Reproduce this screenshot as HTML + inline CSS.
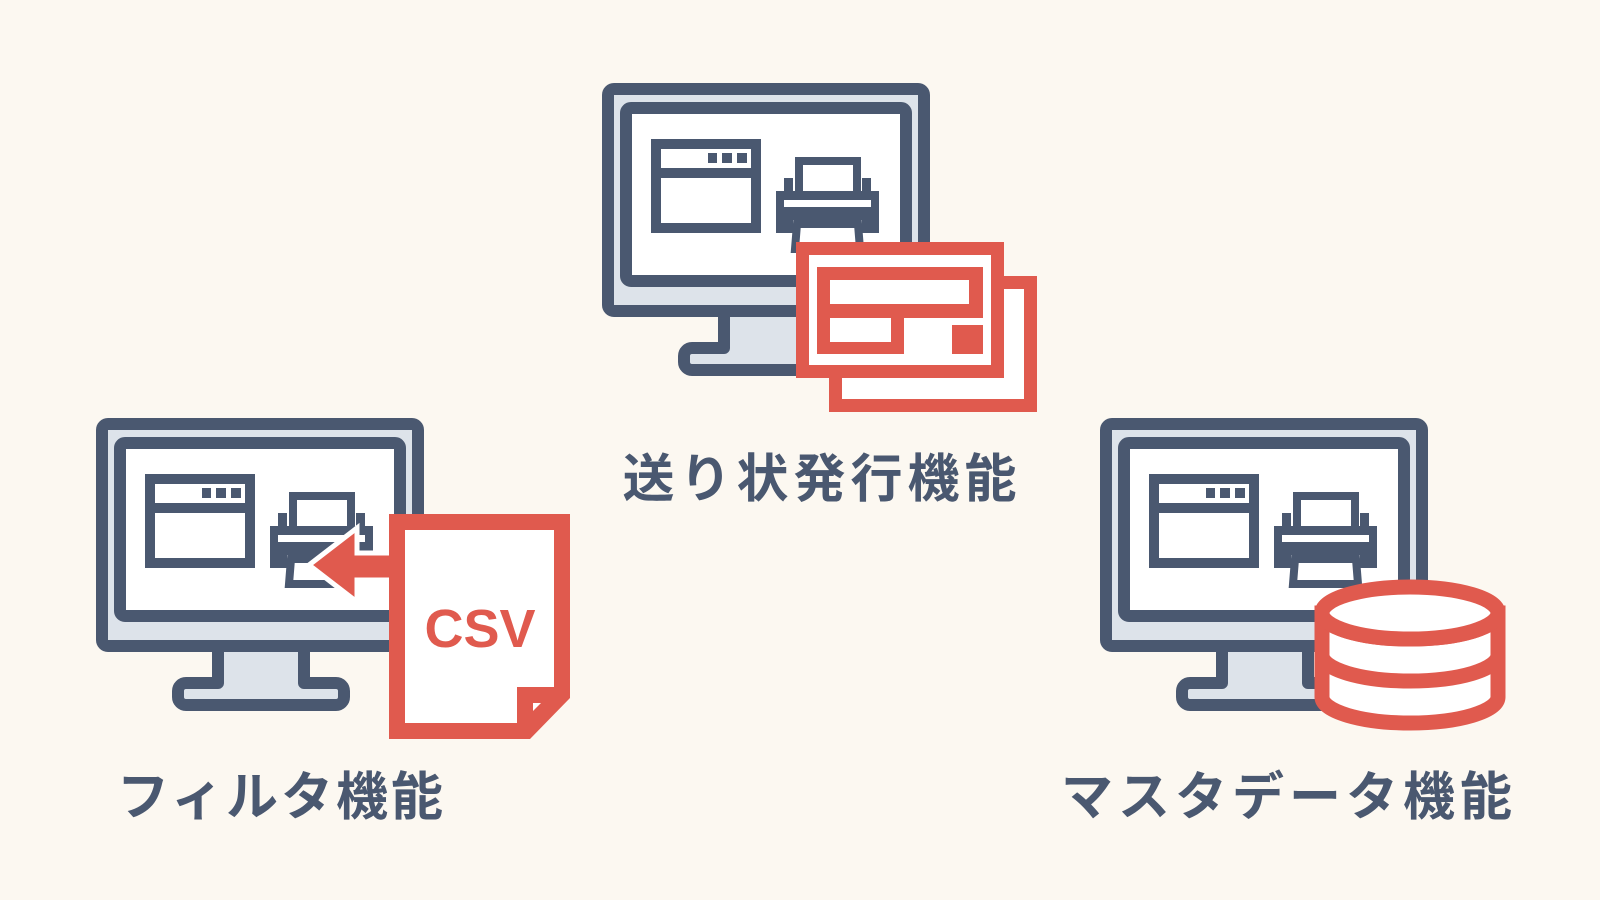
<!DOCTYPE html>
<html><head><meta charset="utf-8"><style>
html,body{margin:0;padding:0;background:#fcf8f1;}
svg{display:block}
text{font-family:"Liberation Sans","Noto Sans CJK JP",sans-serif;font-weight:bold;}
</style></head><body>
<svg width="1600" height="900" viewBox="0 0 1600 900" xmlns="http://www.w3.org/2000/svg">
<defs>
<g id="mon">
  <path d="M724 311 V348 H692 a8 8 0 0 0 -8 8 V362 a8 8 0 0 0 8 8 H842 a8 8 0 0 0 8 -8 V356 a8 8 0 0 0 -8 -8 H810 V311 Z" fill="#dde3ea" stroke="#4a5870" stroke-width="12" stroke-linejoin="round"/>
  <rect x="608" y="89" width="316" height="222" rx="6" fill="#dde3ea" stroke="#4a5870" stroke-width="12"/>
  <rect x="626" y="108" width="280" height="173" rx="5" fill="#fff" stroke="#4a5870" stroke-width="12"/>
  <rect x="656" y="144" width="100" height="84" fill="#fff" stroke="#4a5870" stroke-width="10"/>
  <rect x="656" y="168" width="100" height="10" fill="#4a5870"/>
  <rect x="708" y="153" width="9" height="10" fill="#4a5870"/>
  <rect x="722" y="153" width="10" height="10" fill="#4a5870"/>
  <rect x="737" y="153" width="10" height="10" fill="#4a5870"/>
  <rect x="799" y="161" width="58" height="34" fill="#fff" stroke="#4a5870" stroke-width="8"/>
  <rect x="784" y="178" width="9" height="15" fill="#4a5870"/>
  <rect x="862" y="178" width="9" height="15" fill="#4a5870"/>
  <path d="M776 191 H879 V233 H862 V207 H793 V233 H776 Z" fill="#4a5870"/>
  <rect x="784" y="200" width="87" height="7" fill="#fff"/>
  <rect x="776" y="207" width="103" height="13" fill="#4a5870"/>
  <path d="M797 224 H858 L860 249 H795 Z" fill="#fff" stroke="#4a5870" stroke-width="8"/>
</g>
</defs>

<use href="#mon"/>
<rect x="835.5" y="282.5" width="195" height="123" fill="#fff" stroke="#e05a4e" stroke-width="13"/>
<rect x="802.5" y="248.5" width="195" height="123" fill="#fff" stroke="#e05a4e" stroke-width="13"/>
<rect x="817" y="267" width="166" height="51" fill="#e05a4e"/>
<rect x="830" y="280" width="139" height="24" fill="#fff"/>
<rect x="817" y="318" width="87" height="36" fill="#e05a4e"/>
<rect x="830" y="318" width="61" height="24" fill="#fff"/>
<rect x="952" y="325" width="31" height="29" fill="#e05a4e"/>
<text x="822" y="497" font-size="52" fill="#4a5870" text-anchor="middle" letter-spacing="5">送り状発行機能</text>

<use href="#mon" transform="translate(-506,335)"/>
<path d="M357 528 L309 565 L357 602 V580 H392 V553 H357 Z" fill="#e05a4e" stroke="#fff" stroke-width="5" stroke-linejoin="miter"/>
<path d="M389 514 H570 V698 L530 739 H389 Z" fill="#e05a4e"/>
<path d="M405 530 H554 V687 H517 V723 H405 Z" fill="#fff"/>
<path d="M533 703 H541 L533 711 Z" fill="#fff"/>
<text x="480" y="647" font-size="54" fill="#e05a4e" text-anchor="middle">CSV</text>
<text x="117" y="815" font-size="52" fill="#4a5870" letter-spacing="3">フィルタ機能</text>

<use href="#mon" transform="translate(498,335)"/>
<path d="M1322 613 V697 A88 26 0 0 0 1498 697 V613 Z" fill="#fff" stroke="#e05a4e" stroke-width="15"/>
<path d="M1322 655 A88 26 0 0 0 1498 655" fill="none" stroke="#e05a4e" stroke-width="15"/>
<path d="M1322 613 A88 26 0 0 0 1498 613" fill="none" stroke="#e05a4e" stroke-width="15"/>
<ellipse cx="1410" cy="613" rx="88" ry="26" fill="#fff" stroke="#e05a4e" stroke-width="15"/>
<text x="1061" y="815" font-size="52" fill="#4a5870" letter-spacing="5">マスタデータ機能</text>
</svg>
</body></html>
